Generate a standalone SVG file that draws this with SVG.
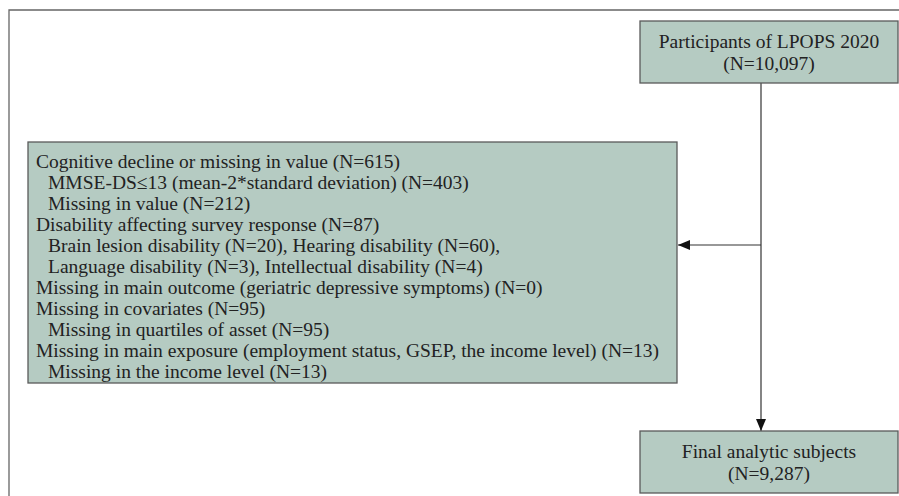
<svg xmlns="http://www.w3.org/2000/svg" width="899" height="496" viewBox="0 0 899 496">
<defs>
<style>
.box{fill:#b5cbc2;stroke:#5a5a5a;stroke-width:1.3}
.t{font-family:"Liberation Serif","Times New Roman",serif;font-size:19.5px;fill:#222}
.c{text-anchor:middle}
.ln{stroke:#333;stroke-width:1.2;fill:none}
.frame{stroke:#666;stroke-width:1.3;fill:none}
</style>
<marker id="ah" viewBox="0 0 12 10" refX="12" refY="5" markerWidth="12" markerHeight="10" markerUnits="userSpaceOnUse" orient="auto">
<path d="M0,0 L12,5 L0,10 z" fill="#111"/>
</marker>
</defs>
<path class="frame" d="M9,496 V10 H899"/>
<g id="connectors">
<line class="ln" x1="761" y1="83" x2="761" y2="431" marker-end="url(#ah)"/>
<line class="ln" x1="761" y1="245" x2="678" y2="245" marker-end="url(#ah)"/>
</g>
<g id="n1">
<rect class="box" x="640" y="21" width="258" height="62"/>
<text class="t c" x="769" y="48">Participants of LPOPS 2020</text>
<text class="t c" x="769" y="70">(N=10,097)</text>
</g>
<g id="n2">
<rect class="box" x="28" y="142" width="649" height="241"/>
<text class="t" x="36" y="168">Cognitive decline or missing in value (N=615)</text>
<text class="t" x="48" y="189">MMSE-DS≤13 (mean-2*standard deviation) (N=403)</text>
<text class="t" x="48" y="210">Missing in value (N=212)</text>
<text class="t" x="36" y="231">Disability affecting survey response (N=87)</text>
<text class="t" x="48" y="252">Brain lesion disability (N=20), Hearing disability (N=60),</text>
<text class="t" x="48" y="273">Language disability (N=3), Intellectual disability (N=4)</text>
<text class="t" x="36" y="294">Missing in main outcome (geriatric depressive symptoms) (N=0)</text>
<text class="t" x="36" y="315">Missing in covariates (N=95)</text>
<text class="t" x="48" y="336">Missing in quartiles of asset (N=95)</text>
<text class="t" x="36" y="357">Missing in main exposure (employment status, GSEP, the income level) (N=13)</text>
<text class="t" x="48" y="378">Missing in the income level (N=13)</text>
</g>
<g id="n3">
<rect class="box" x="640" y="431" width="258" height="62"/>
<text class="t c" x="769" y="458">Final analytic subjects</text>
<text class="t c" x="769" y="480">(N=9,287)</text>
</g>
</svg>
